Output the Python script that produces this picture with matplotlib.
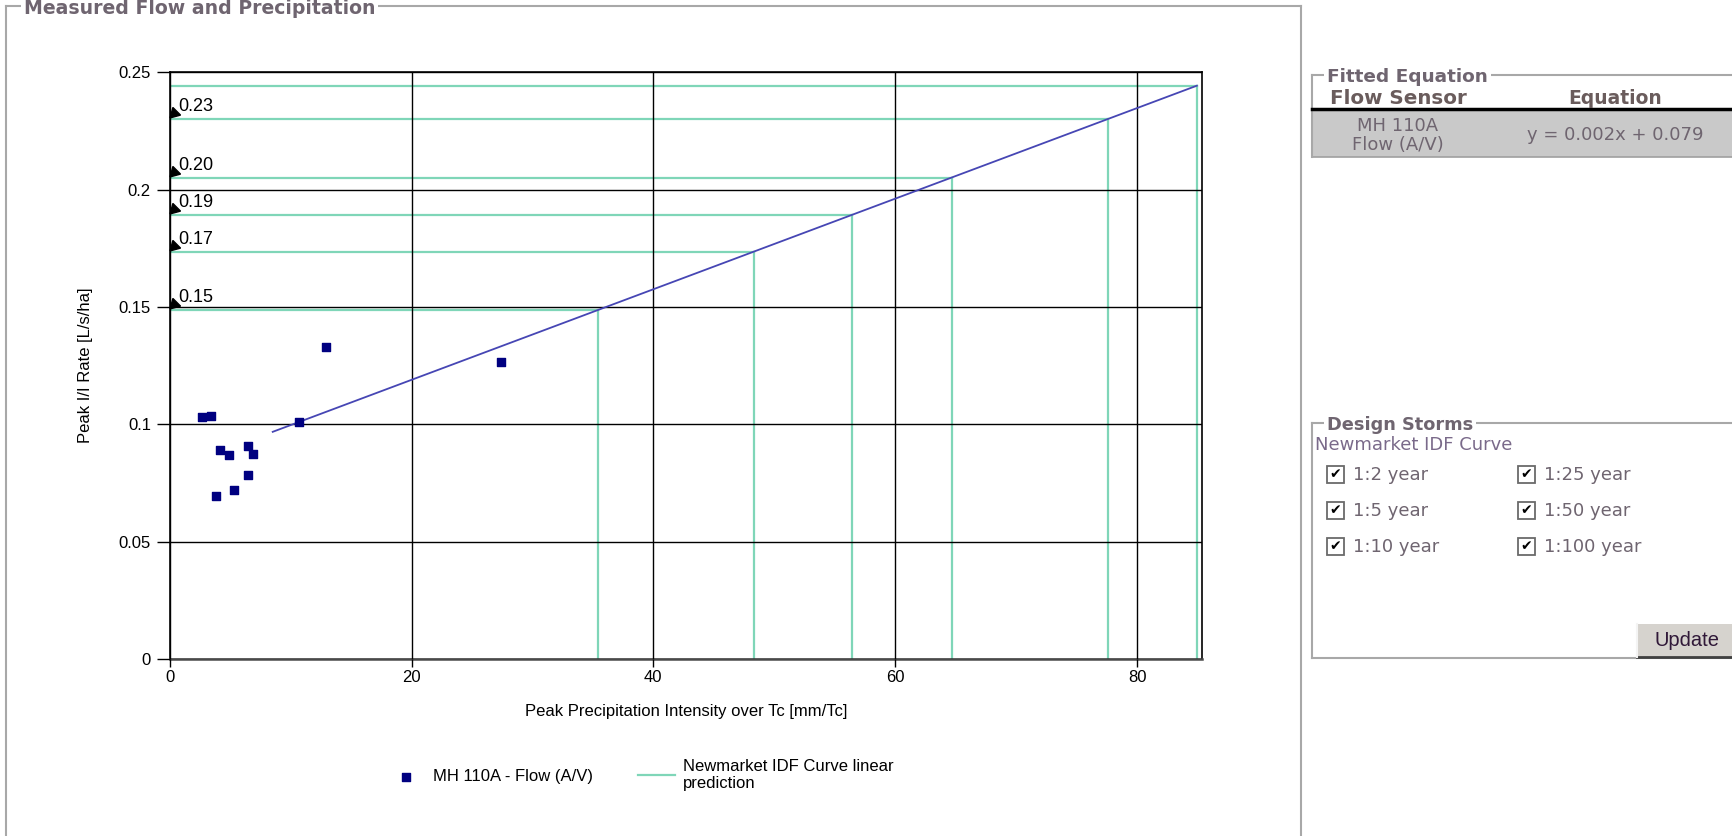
import matplotlib
matplotlib.use("Agg")
import matplotlib.pyplot as plt
from matplotlib.patches import Rectangle
from matplotlib.transforms import offset_copy

# --- data ---
flow_x = [2.67, 3.42, 4.16, 4.93, 6.45, 6.91, 6.45, 5.34, 3.83, 10.69, 12.95, 27.43]
flow_y = [0.1030, 0.1034, 0.0889, 0.0871, 0.0908, 0.0874, 0.0785, 0.0721, 0.0693, 0.1012, 0.1330, 0.1267]

fit_x = [8.52, 84.95]
fit_y = [0.0968, 0.2443]

storm_x = [35.45, 48.33, 56.41, 64.68, 77.6, 84.95]
storm_y = [0.1487, 0.1734, 0.1891, 0.2050, 0.2300, 0.2443]
storm_labels = ["0.15", "0.17", "0.19", "0.20", "0.23", ""]

x_ticks = [0, 20, 40, 60, 80]
y_ticks = [0, 0.05, 0.1, 0.15, 0.2, 0.25]
y_ticklabels = ["0", "0.05", "0.1", "0.15", "0.2", "0.25"]

storm_names = [["1:2 year", "1:5 year", "1:10 year"],
               ["1:25 year", "1:50 year", "1:100 year"]]

W, H = 1733, 836
MINT = "#7fd6b8"
NAVY = "#000080"
GREY_TXT = "#6f6570"
FRAME = "#a8a8a8"

fig = plt.figure(figsize=(W / 100, H / 100), dpi=100)

# overlay in pixel coords for the page furniture
ov = fig.add_axes([0, 0, 1, 1], zorder=0)
ov.set_xlim(0, W); ov.set_ylim(H, 0); ov.axis("off")

# main fieldset
ov.plot([6, 1301], [6, 6], color=FRAME, lw=1.5)
ov.plot([6, 6], [6, H + 5], color=FRAME, lw=1.5)
ov.plot([1301, 1301], [6, H + 5], color=FRAME, lw=1.5)
ov.text(24, 9, "Measured Flow and Precipitation", fontsize=13.6, fontweight="bold",
        color=GREY_TXT, va="center", ha="left", family="DejaVu Sans",
        bbox=dict(fc="white", ec="none", pad=2))

# fitted equation fieldset
ov.plot([1312, W + 5], [75, 75], color=FRAME, lw=1.5)
ov.plot([1312, 1312], [75, 157], color=FRAME, lw=1.5)
ov.text(1327, 77, "Fitted Equation", fontsize=13.3, fontweight="bold", color=GREY_TXT,
        va="center", ha="left", family="DejaVu Sans", bbox=dict(fc="white", ec="none", pad=2))
ov.text(1398, 98, "Flow Sensor", fontsize=14.3, fontweight="bold", color="#6a5c5c",
        va="center", ha="center", family="DejaVu Sans")
ov.text(1615, 98, "Equation", fontsize=13.5, fontweight="bold", color="#6a5c5c",
        va="center", ha="center", family="DejaVu Sans")
ov.add_patch(Rectangle((1312, 110), W - 1312 + 5, 47, fc="#c9c9c9", ec="#a0a0a0", lw=1.2))
ov.plot([1312, W + 5], [109, 109], color="black", lw=2.5)
ov.text(1398, 126, "MH 110A", fontsize=13, color=GREY_TXT, ha="center", va="center",
        family="DejaVu Sans")
ov.text(1398, 145, "Flow (A/V)", fontsize=13, color=GREY_TXT, ha="center", va="center",
        family="DejaVu Sans")
ov.text(1615, 135, "y = 0.002x + 0.079", fontsize=13, color=GREY_TXT, ha="center",
        va="center", family="DejaVu Sans")

# design storms fieldset
ov.plot([1312, W + 5], [423, 423], color=FRAME, lw=1.5)
ov.plot([1312, 1312], [423, 658], color=FRAME, lw=1.5)
ov.plot([1312, W + 5], [658, 658], color=FRAME, lw=1.5)
ov.text(1327, 425, "Design Storms", fontsize=12.8, fontweight="bold", color=GREY_TXT,
        va="center", ha="left", family="DejaVu Sans", bbox=dict(fc="white", ec="none", pad=2))
ov.text(1315, 445, "Newmarket IDF Curve", fontsize=13, color="#7a6a8a", va="center",
        ha="left", family="DejaVu Sans")
col_x = [1327, 1518]
row_y = [474, 510, 546]
for ci, names in enumerate(storm_names):
    for ri, name in enumerate(names):
        bx, by = col_x[ci], row_y[ri]
        ov.add_patch(Rectangle((bx, by - 8), 17, 17, fc="white", ec="#6a6a6a", lw=1.3))
        ov.text(bx + 8.5, by + 0.5, "\u2714", fontsize=10, color="black", ha="center",
                va="center", family="DejaVu Sans")
        ov.text(bx + 26, by + 1, name, fontsize=13, color=GREY_TXT, ha="left",
                va="center", family="DejaVu Sans")

# update button
ov.add_patch(Rectangle((1637, 624), W - 1637 + 5, 33, fc="#d6d3ce", ec="none"))
ov.plot([1637, W + 5], [657, 657], color="#404040", lw=2)
ov.plot([1637, 1637], [624, 657], color="#f4f4f4", lw=1.5)
ov.text(1687, 640, "Update", fontsize=14.5, color="#301838", ha="center", va="center",
        family="Liberation Sans")

# --- main chart ---
ax = fig.add_axes([169.7 / W, 1 - 659 / H, (1202.3 - 169.7) / W, (659 - 72.3) / H], zorder=1)
plt.rcParams["font.family"] = ["Liberation Sans", "DejaVu Sans"]

for i, (sx, sy) in enumerate(zip(storm_x, storm_y)):
    ax.plot([0, sx], [sy, sy], color=MINT, lw=1.6, zorder=1,
            label="Newmarket IDF Curve linear\nprediction" if i == 0 else None)
    ax.plot([sx, sx], [0, sy], color=MINT, lw=1.6, zorder=1)

ax.plot(fit_x, fit_y, color="#4646b4", lw=1.3, zorder=3)
ax.scatter(flow_x, flow_y, marker="s", s=40, color=NAVY, zorder=5,
           label="MH 110A - Flow (A/V)")

# value callouts: arrowhead at the axis + label
arrow_tr = offset_copy(ax.transData, fig=fig, x=4.4, y=6.4, units="dots")
for sy, lbl in zip(storm_y, storm_labels):
    if not lbl:
        continue
    ax.plot([0], [sy], marker=(3, 0, 135), ms=9, color="black", transform=arrow_tr,
            clip_on=False, zorder=6, lw=0)
    ax.annotate(lbl, xy=(0, sy), xytext=(6.5, 3.0), textcoords="offset points",
                fontsize=13, family="Liberation Sans", ha="left", va="bottom",
                zorder=6, annotation_clip=False)

ax.set_xlim(0, 85.4)
ax.set_ylim(0, 0.25)
ax.set_xticks(x_ticks)
ax.set_yticks(y_ticks)
ax.set_yticklabels(y_ticklabels)
ax.tick_params(axis="x", length=6, width=1, pad=2, labelsize=12)
ax.tick_params(axis="y", length=9.5, width=1, pad=4, labelsize=12)
for t in ax.get_xticklabels() + ax.get_yticklabels():
    t.set_family("Liberation Sans")
ax.grid(True, color="black", lw=1, zorder=2)
ax.set_axisbelow(False)
for s in ["top", "right", "left"]:
    ax.spines[s].set_color("black"); ax.spines[s].set_linewidth(1.2)
ax.spines["bottom"].set_color("#4a4a4a"); ax.spines["bottom"].set_linewidth(1.8)

ax.set_xlabel("Peak Precipitation Intensity over Tc [mm/Tc]", fontsize=12,
              family="Liberation Sans")
ax.set_ylabel("Peak I/I Rate [L/s/ha]", fontsize=12, family="Liberation Sans")
ax.xaxis.set_label_coords(0.5, -0.077)
ax.yaxis.set_label_coords(-0.074, 0.5)

h, l = ax.get_legend_handles_labels()
order = [1, 0]
fig.legend([h[i] for i in order], [l[i] for i in order], loc="upper left",
           bbox_to_anchor=(373 / W, 1 - 744 / H), ncol=2, frameon=False,
           prop={"family": "Liberation Sans", "size": 12},
           handlelength=2.2, handletextpad=0.5, columnspacing=2.7, scatterpoints=1)

fig.savefig("out.png", dpi=100)
